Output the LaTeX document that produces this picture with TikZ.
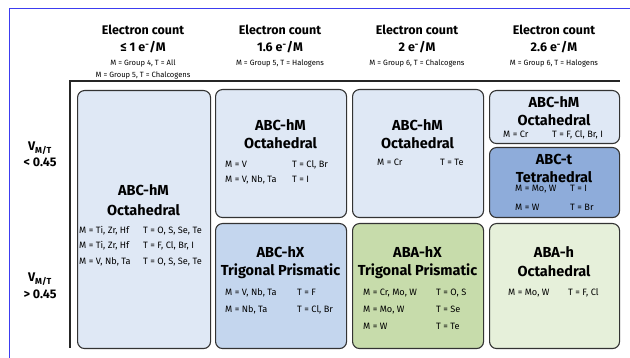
\documentclass[tikz,border=0pt]{standalone}
\usepackage{fontspec}
\setmainfont{Fira Sans}
\usepackage{tikz}
\usetikzlibrary{positioning}
\definecolor{paleblue}{HTML}{DFE8F5}
\definecolor{midblue}{HTML}{C4D6EE}
\definecolor{deepblue}{HTML}{8EACDA}
\definecolor{midgreen}{HTML}{C7DCAB}
\definecolor{palegreen}{HTML}{E6F0DA}
\definecolor{framecol}{HTML}{3C3CF0}
\tikzset{
    %Define style for grid cells
    cell/.style={
           draw=black!80,
           line width=1.1pt,
           rounded corners=7pt,
           anchor=north west,
           inner sep=0pt},
    % titles inside the cells
    title/.style={
           font=\bfseries\fontsize{14.5}{16}\selectfont,
           text centered,
           inner sep=0pt},
    % element lists
    entry/.style={
           font=\fontsize{9.2}{10}\selectfont,
           anchor=base west,
           inner sep=0pt},
    % column heads
    head/.style={
           font=\bfseries\fontsize{12.5}{14}\selectfont,
           inner sep=0pt},
    note/.style={
           font=\fontsize{7.6}{9}\selectfont,
           inner sep=0pt},
    % axis lines
    axis/.style={
           line width=1.6pt,
           black!85}
}

\begin{document}
\begin{tikzpicture}[x=1pt,y=-1pt]
    \useasboundingbox (0,0) rectangle (630,358);
    \draw[framecol, line width=0.9pt] (9,358) -- (9,8.5) -- (630,8.5);

    % column heads
    \node[head](ec1) at (143,30){Electron count};
    \node[head](ec2) at (280,30){Electron count};
    \node[head](ec3) at (417,30){Electron count};
    \node[head](ec4) at (554,30){Electron count};
    \node[head](cnt1) at (143,47){≤ 1 e\textsuperscript{-}/M};
    \node[head](cnt2) at (280,47){1.6 e\textsuperscript{-}/M};
    \node[head](cnt3) at (417,47){2 e\textsuperscript{-}/M};
    \node[head](cnt4) at (554,47){2.6 e\textsuperscript{-}/M};
    \node[note](grp1) at (143,63){M = Group 4, T = All};
    \node[note](grp1b) at (143,75){M = Group 5, T = Chalcogens};
    \node[note](grp2) at (280,63){M = Group 5, T = Halogens};
    \node[note](grp3) at (417,63){M = Group 6, T = Chalcogens};
    \node[note](grp4) at (554,63){M = Group 6, T = Halogens};

    % row heads
    \node[head](vlow) at (40,148){V\textsubscript{M/T}};
    \node[head](lt) at (40,162){< 0.45};
    \node[head](vhigh) at (40,279){V\textsubscript{M/T}};
    \node[head](gt) at (40,294){> 0.45};

    % axes
    \draw[axis] (70,348) -- (70,81) -- (620,81);

    % cells
    \node[cell, fill=paleblue, minimum width=133pt, minimum height=258pt](hmA) at (77,90){};
    \node[cell, fill=paleblue, minimum width=131pt, minimum height=128pt](hmB) at (215,89){};
    \node[cell, fill=midblue, minimum width=131pt, minimum height=125pt](hxB) at (215,223){};
    \node[cell, fill=paleblue, minimum width=131pt, minimum height=128pt](hmC) at (352,89){};
    \node[cell, fill=midgreen, minimum width=131pt, minimum height=125pt](hxC) at (352,223){};
    \node[cell, fill=paleblue, minimum width=130pt, minimum height=53pt](hmD) at (489,90){};
    \node[cell, fill=deepblue, minimum width=130pt, minimum height=70pt](tD) at (489,147){};
    \node[cell, fill=palegreen, minimum width=130pt, minimum height=125pt](hD) at (489,223){};

    % cell A
    \node[title](hmAt) at (143.5,190){ABC-hM};
    \node[title](hmAs) at (143.5,210){Octahedral};
    \node[entry] at (79,234){M = Ti, Zr, Hf};
    \node[entry] at (143,234){T = O, S, Se, Te};
    \node[entry] at (79,249){M = Ti, Zr, Hf};
    \node[entry] at (143,249){T = F, Cl, Br, I};
    \node[entry] at (79,265){M = V, Nb, Ta};
    \node[entry] at (143,265){T = O, S, Se, Te};

    % cell B, top
    \node[title](hmBt) at (280.5,125){ABC-hM};
    \node[title](hmBs) at (280.5,143){Octahedral};
    \node[entry] at (225,168){M = V};
    \node[entry] at (292,168){T = Cl, Br};
    \node[entry] at (225,183){M = V, Nb, Ta};
    \node[entry] at (292,183){T = I};

    % cell B, bottom
    \node[title](hxBt) at (280.5,252){ABC-hX};
    \node[title](hxBs) at (280.5,271){Trigonal Prismatic};
    \node[entry] at (225,296){M = V, Nb, Ta};
    \node[entry] at (297,296){T = F};
    \node[entry] at (225,313){M = Nb, Ta};
    \node[entry] at (297,313){T = Cl, Br};

    % cell C, top
    \node[title](hmCt) at (417.5,125){ABC-hM};
    \node[title](hmCs) at (417.5,143){Octahedral};
    \node[entry] at (377,166){M = Cr};
    \node[entry] at (440,166){T = Te};

    % cell C, bottom
    \node[title](hxCt) at (417.5,252){ABA-hX};
    \node[title](hxCs) at (417.5,271){Trigonal Prismatic};
    \node[entry] at (363,296){M = Cr, Mo, W};
    \node[entry] at (436,296){T = O, S};
    \node[entry] at (363,313){M = Mo, W};
    \node[entry] at (436,313){T = Se};
    \node[entry] at (363,330){M = W};
    \node[entry] at (436,330){T = Te};

    % cell D, top
    \node[title](hmDt) at (554,102){ABC-hM};
    \node[title](hmDs) at (554,120){Octahedral};
    \node[entry] at (503,138){M = Cr};
    \node[entry] at (552,138){T = F, Cl, Br, I};

    % cell D, middle
    \node[title](tDt) at (554,159){ABC-t};
    \node[title](tDs) at (554,177){Tetrahedral};
    \node[entry] at (515,192){M = Mo, W};
    \node[entry] at (570,192){T = I};
    \node[entry] at (515,211){M = W};
    \node[entry] at (570,211){T = Br};

    % cell D, bottom
    \node[title](hDt) at (554,252){ABA-h};
    \node[title](hDs) at (554,271){Octahedral};
    \node[entry] at (508,296){M = Mo, W};
    \node[entry] at (568,296){T = F, Cl};
\end{tikzpicture}
\end{document}
